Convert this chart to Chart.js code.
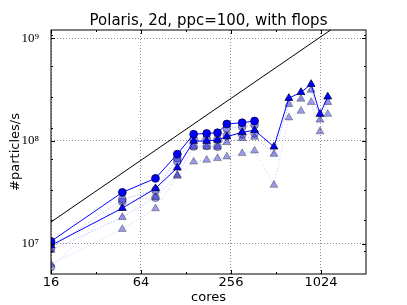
<!DOCTYPE html>
<html>
<head>
<meta charset="utf-8">
<script src="https://cdn.jsdelivr.net/npm/chart.js@4"></script>
<style>
    html, body { margin: 0; padding: 0; background: #fff; }
    canvas { display: block; }
</style>
</head>
<body>
<canvas id="scalingChart" width="407" height="305"></canvas>
<script>
const chartTitle = 'Polaris, 2d, ppc=100, with flops';

const cores = [16, 48, 80, 112, 144, 176, 208, 240, 304, 368, 496, 624, 752, 880, 1008, 1136];

// circles only go up to 368 cores
const circleSolid = [1.05e7, 3.15e7, 4.31e7, 7.43e7, 1.16e8, 1.18e8, 1.20e8, 1.46e8, 1.50e8, 1.56e8];
const circleLight = [9.0e6, 2.69e7, 3.31e7, 6.75e7, 1.04e8, 1.05e8, 1.03e8, 1.32e8, 1.37e8, 1.43e8];
const circleFaint = [5.9e6, 2.55e7, 2.79e7, 6.3e7, 8.8e7, 8.9e7, 8.75e7, 1.12e8, 1.15e8, 1.18e8];

const triSolid = [9.6e6, 2.21e7, 3.44e7, 5.47e7, 9.95e7, 9.95e7, 1.02e8, 1.10e8, 1.21e8, 1.27e8,
                  8.75e7, 2.60e8, 2.97e8, 3.56e8, 1.82e8, 2.69e8];
const triLight = [8.6e6, 1.80e7, 2.83e7, 4.64e7, 8.75e7, 8.75e7, 8.75e7, 9.66e7, 1.06e8, 1.09e8,
                  7.43e7, 2.27e8, 2.56e8, 3.13e8, 1.60e8, 2.38e8];
const triFaint = [6.28e6, 1.38e7, 2.19e7, 4.54e7, 6.25e7, 6.50e7, 6.75e7, 7.0e7, 7.55e7, 8.0e7,
                  3.71e7, 1.68e8, 1.95e8, 2.38e8, 1.23e8, 1.82e8];

const idealCores = [16, 2048];
const idealRate = [1.62e7, 2.07e9];

const xTicks = [16, 64, 256, 1024];
const xMinorTicks = [32, 128, 512];
const yTicks = [1e7, 1e8, 1e9];
const yTickLabels = ['10\u2077', '10\u2078', '10\u2079'];
const yMinorTicks = [8388608, 16777216, 33554432, 67108864, 134217728, 268435456, 536870912, 1073741824];

function toPoints(xs, ys) {
    return ys.map((y, i) => ({ x: xs[i], y: y }));
}

function series(values, shape, kind) {
    const styles = {
        solid: { line: '#0000ff', fill: '#0000ff', edge: '#000040', dash: [] },
        light: { line: 'rgba(0,0,255,0.35)', fill: 'rgba(40,40,210,0.5)', edge: 'rgba(0,0,0,0.45)', dash: [1, 2] },
        faint: { line: 'rgba(0,0,255,0.22)', fill: 'rgba(40,40,210,0.45)', edge: 'rgba(0,0,0,0.4)', dash: [1, 2] }
    };
    const s = styles[kind];
    return {
        data: toPoints(cores, values),
        borderColor: s.line,
        borderWidth: 1,
        borderDash: s.dash,
        pointStyle: shape,
        pointRadius: shape === 'triangle' ? 4.5 : 3.9,
        pointBackgroundColor: s.fill,
        pointBorderColor: s.edge,
        pointBorderWidth: 0.8,
        tension: 0,
        fill: false
    };
}

// title over the plot box, inward tick marks and the box itself
const frameTicks = {
    id: 'frameTicks',
    afterDraw(chart) {
        const { ctx, chartArea: a, scales } = chart;
        ctx.save();
        ctx.fillStyle = '#000';
        ctx.font = '15px "DejaVu Sans"';
        ctx.textAlign = 'center';
        ctx.textBaseline = 'middle';
        ctx.fillText(chartTitle, (a.left + a.right) / 2, 21);

        ctx.strokeStyle = '#000';
        ctx.lineWidth = 1;
        const tickX = (vals, len) => vals.forEach(v => {
            const px = Math.round(scales.x.getPixelForValue(v)) + 0.5;
            ctx.beginPath();
            ctx.moveTo(px, a.bottom); ctx.lineTo(px, a.bottom - len);
            ctx.moveTo(px, a.top); ctx.lineTo(px, a.top + len);
            ctx.stroke();
        });
        const tickY = (vals, len) => vals.forEach(v => {
            const py = Math.round(scales.y.getPixelForValue(v)) + 0.5;
            if (py < a.top || py > a.bottom) return;
            ctx.beginPath();
            ctx.moveTo(a.left, py); ctx.lineTo(a.left + len, py);
            ctx.moveTo(a.right, py); ctx.lineTo(a.right - len, py);
            ctx.stroke();
        });
        tickX(xTicks, 4);
        tickX(xMinorTicks, 2);
        tickY(yTicks, 4);
        tickY(yMinorTicks, 2);
        ctx.strokeRect(a.left, a.top, a.right - a.left, a.bottom - a.top);
        ctx.restore();
    }
};

const ctx = document.getElementById('scalingChart').getContext('2d');

new Chart(ctx, {
    type: 'line',
    data: {
        datasets: [
            series(circleSolid, 'circle', 'solid'),
            series(triSolid, 'triangle', 'solid'),
            series(circleLight, 'circle', 'light'),
            series(triLight, 'triangle', 'light'),
            series(circleFaint, 'circle', 'faint'),
            series(triFaint, 'triangle', 'faint'),
            {
                data: toPoints(idealCores, idealRate),
                borderColor: '#000',
                borderWidth: 1,
                pointRadius: 0,
                tension: 0,
                fill: false
            }
        ]
    },
    options: {
        responsive: false,
        animation: false,
        layout: { padding: { left: 0, right: 41, top: 30, bottom: 0 } },
        plugins: {
            legend: { display: false },
            tooltip: { enabled: false },
            title: { display: false }
        },
        scales: {
            x: {
                type: 'logarithmic',
                position: 'bottom',
                min: 16,
                max: 2048,
                afterBuildTicks: scale => { scale.ticks = xTicks.map(v => ({ value: v })); },
                afterFit: scale => { scale.height = 31; },
                ticks: {
                    color: '#000',
                    padding: 1,
                    maxRotation: 0,
                    autoSkip: false,
                    font: { family: 'DejaVu Sans', size: 13 },
                    callback: value => String(value)
                },
                grid: { color: 'rgba(0,0,0,0.45)', lineWidth: 1, drawTicks: false },
                border: { display: false, dash: [1, 2] },
                title: {
                    display: true,
                    text: 'cores',
                    color: '#000',
                    font: { family: 'DejaVu Sans', size: 13 },
                    padding: { top: 0, bottom: 0 }
                }
            },
            y: {
                type: 'logarithmic',
                min: 5.05e6,
                max: 1.2e9,
                afterBuildTicks: scale => { scale.ticks = yTicks.map(v => ({ value: v })); },
                afterFit: scale => { scale.width = 51; },
                ticks: {
                    color: '#000',
                    padding: 12,
                    autoSkip: false,
                    font: { family: 'Liberation Serif', size: 13 },
                    callback: value => yTickLabels[yTicks.indexOf(value)]
                },
                grid: { color: 'rgba(0,0,0,0.45)', lineWidth: 1, drawTicks: false },
                border: { display: false, dash: [1, 2] },
                title: {
                    display: true,
                    text: '#particles/s',
                    color: '#000',
                    font: { family: 'DejaVu Sans', size: 13 },
                    padding: { top: 8, bottom: 0 }
                }
            }
        }
    },
    plugins: [frameTicks]
});
</script>
</body>
</html>
